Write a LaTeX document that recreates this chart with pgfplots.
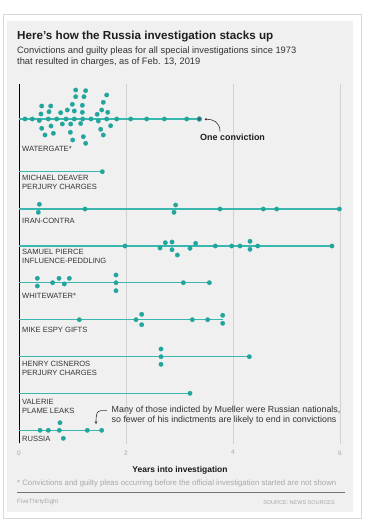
\documentclass[border=0pt]{standalone}
\usepackage{fontspec}
\setmainfont{Liberation Sans}
\usepackage{pgfplots}
\usepackage{pgfplotstable}
\pgfplotsset{compat=1.18}
\usetikzlibrary{arrows.meta}
\definecolor{bgpanel}{HTML}{F0F0F0}
\definecolor{bordercol}{HTML}{D8D8D8}
\definecolor{gridcol}{HTML}{D2D2D2}
\definecolor{lineteal}{HTML}{3AB8AF}
\definecolor{dotteal}{HTML}{22A59C}
\definecolor{darkteal}{HTML}{2A6E72}
\definecolor{txt}{HTML}{333333}
\definecolor{lighttxt}{HTML}{A8A8A8}

% dots: years into investigation, vertical position (px from top)
\pgfplotstableread{
x y
0.112 119
0.249 119
0.380 120.5
0.548 119
0.704 119
0.879 119
1.034 119
1.190 119
1.346 119
1.483 121
1.639 119
1.826 119
2.087 119
2.386 119
2.717 119
3.134 119
1.059 90
1.246 90.7
1.059 96.7
1.215 96.7
1.639 95
0.997 104.3
1.184 105.3
1.576 102.3
0.424 106
0.592 106
0.903 110
1.034 111
0.779 112.7
0.561 111.7
0.411 114
1.184 112.3
1.461 114.3
1.545 110
1.658 112.3
0.810 124
0.966 124
1.153 123.5
0.598 126
0.424 128.3
1.527 129.3
1.713 125.7
0.642 133.3
0.486 135
0.960 132.3
1.203 136.7
1.576 135
1.003 140
1.246 143.3
}\watergate

\pgfplotstableread{
x y
1.557 171.7
0.380 204.3
0.361 212.3
1.234 209
2.928 205
2.897 212.3
3.757 209
4.567 209
4.816 209
5.988 209
1.981 246
2.636 248
2.735 242.7
2.860 242
2.860 249.7
2.960 255
3.196 248.3
3.302 243.3
3.670 246
3.975 246
4.131 246
4.318 241.3
4.318 249.3
4.461 246
5.850 246
0.343 278.3
0.343 286
0.629 282.7
0.748 278.3
0.847 284
0.941 278.3
1.813 275
1.813 282.7
1.813 290.7
3.072 282.7
3.558 282.7
1.128 319.7
2.187 319.7
2.293 314.3
2.293 324.7
3.240 319.7
3.526 319.7
3.807 315.3
3.807 323.3
2.654 349
2.654 356.7
2.654 364.3
4.305 356.7
3.196 393.3
0.393 430.3
0.548 430.3
0.754 430.3
0.766 422.7
0.829 438.3
1.277 430.3
1.545 430.3
}\others

\begin{document}
\begin{tikzpicture}
\begin{scope}[shift={(-19bp,444bp)}, x=1bp, y=-1bp]
\fill[white] (0,0) rectangle (377,529);
\draw[bordercol, line width=0.8bp, fill=white] (3,14) rectangle (361,518);
\fill[bgpanel] (7,21) rectangle (353,512);
\end{scope}
\begin{axis}[
  scale only axis, width=321bp, height=360bp,
  xmin=0, xmax=6, ymin=84, ymax=444, y dir=reverse, clip=false,
  axis line style={draw=none},
  xtick={0,2,4,6}, ytick=\empty, major tick length=0pt,
  xmajorgrids, grid style={gridcol, line width=0.7bp},
  /pgf/number format/assume math mode=true,
  xticklabel style={text=lighttxt, font=\fontsize{6.5}{7}\selectfont, yshift=-3bp},
]
\addplot[black, line width=1bp] coordinates {(0,84) (0,443)};
\addplot[lineteal, line width=1.3bp] coordinates {(0,119) (3.370,119)};
\addplot[lineteal, line width=1.3bp] coordinates {(0,171.7) (1.557,171.7)};
\addplot[lineteal, line width=1.3bp] coordinates {(0,209) (6.0,209)};
\addplot[lineteal, line width=1.3bp] coordinates {(0,246) (5.850,246)};
\addplot[lineteal, line width=1.3bp] coordinates {(0,282.7) (3.558,282.7)};
\addplot[lineteal, line width=1.3bp] coordinates {(0,319.7) (3.807,319.7)};
\addplot[lineteal, line width=1.3bp] coordinates {(0,356.7) (4.305,356.7)};
\addplot[lineteal, line width=1.3bp] coordinates {(0,393.3) (3.196,393.3)};
\addplot[lineteal, line width=1.3bp] coordinates {(0,430.3) (1.545,430.3)};
\addplot[only marks, mark=*, mark size=2.2bp, color=dotteal, mark options={solid, draw=dotteal, fill=dotteal, line width=0.3bp}] table[x=x,y=y] {\watergate};
\addplot[only marks, mark=*, mark size=2.2bp, color=dotteal, mark options={solid, draw=dotteal, fill=dotteal, line width=0.3bp}] table[x=x,y=y] {\others};
\addplot[only marks, mark=*, mark size=2.4bp, color=darkteal, mark options={solid, draw=lineteal, line width=0.6bp, fill=darkteal}] coordinates {(3.370,119)};
\end{axis}
\begin{scope}[shift={(-19bp,444bp)}, x=1bp, y=-1bp]
\node[anchor=base west, inner sep=0, text=black!88, font=\bfseries\fontsize{11.7}{13}\selectfont] at (17,39.3) {Here’s how the Russia investigation stacks up};
\node[anchor=base west, inner sep=0, text=txt, font=\fontsize{9.35}{10}\selectfont] at (17,54) {Convictions and guilty pleas for all special investigations since 1973};
\node[anchor=base west, inner sep=0, text=txt, font=\fontsize{9.35}{10}\selectfont] at (17,64.7) {that resulted in charges, as of Feb. 13, 2019};
\begin{scope}[every node/.style={anchor=west, inner sep=0, text=txt, font=\fontsize{7.6}{8}\selectfont}]
\node at (22,149) {WATERGATE*};
\node at (22,178.3) {MICHAEL DEAVER};
\node at (22,187.3) {PERJURY CHARGES};
\node at (22,220.7) {IRAN-CONTRA};
\node at (22,252.2) {SAMUEL PIERCE};
\node at (22,260.8) {INFLUENCE-PEDDLING};
\node at (22,295.7) {WHITEWATER*};
\node at (22,329.7) {MIKE ESPY GIFTS};
\node at (22,364) {HENRY CISNEROS};
\node at (22,372.7) {PERJURY CHARGES};
\node at (22,402.3) {VALERIE};
\node at (22,410.7) {PLAME LEAKS};
\node at (22,439.3) {RUSSIA};
\end{scope}
\node[anchor=west, inner sep=0, text=black!88, font=\bfseries\fontsize{9}{10}\selectfont] at (200,137.3) {One conviction};
\draw[black!80, line width=0.6bp, -{Stealth[length=2.5bp,width=2.5bp]}] (220,131.5) .. controls (220,122) and (213,119) .. (204.5,119.3);
\node[anchor=west, inner sep=0, text=txt, font=\fontsize{8.9}{9}\selectfont] at (111.5,410.7) {Many of those indicted by Mueller were Russian nationals,};
\node[anchor=west, inner sep=0, text=txt, font=\fontsize{8.9}{9}\selectfont] at (111.5,420.7) {so fewer of his indictments are likely to end in convictions};
\draw[black!80, line width=0.6bp, -{Stealth[length=2.5bp,width=2.5bp]}] (107,410.7) -- (101,410.7) .. controls (97,410.7) and (96,414) .. (96,424);
\node[anchor=center, inner sep=0, text=black!90, font=\bfseries\fontsize{8.5}{9}\selectfont] at (180,470.7) {Years into investigation};
\node[anchor=west, inner sep=0, text=lighttxt, font=\fontsize{7.8}{8}\selectfont] at (17,483.3) {* Convictions and guilty pleas occurring before the official investigation started are not shown};
\draw[black!55, line width=0.5bp] (17,492.5) -- (345,492.5);
\node[anchor=west, inner sep=0, text=lighttxt, font=\fontsize{6.2}{7}\selectfont] at (17,502.3) {FiveThirtyEight};
\node[anchor=east, inner sep=0, text=lighttxt, font=\fontsize{5.5}{6}\selectfont] at (335,502.3) {SOURCE: NEWS SOURCES};
\end{scope}
\end{tikzpicture}
\end{document}
